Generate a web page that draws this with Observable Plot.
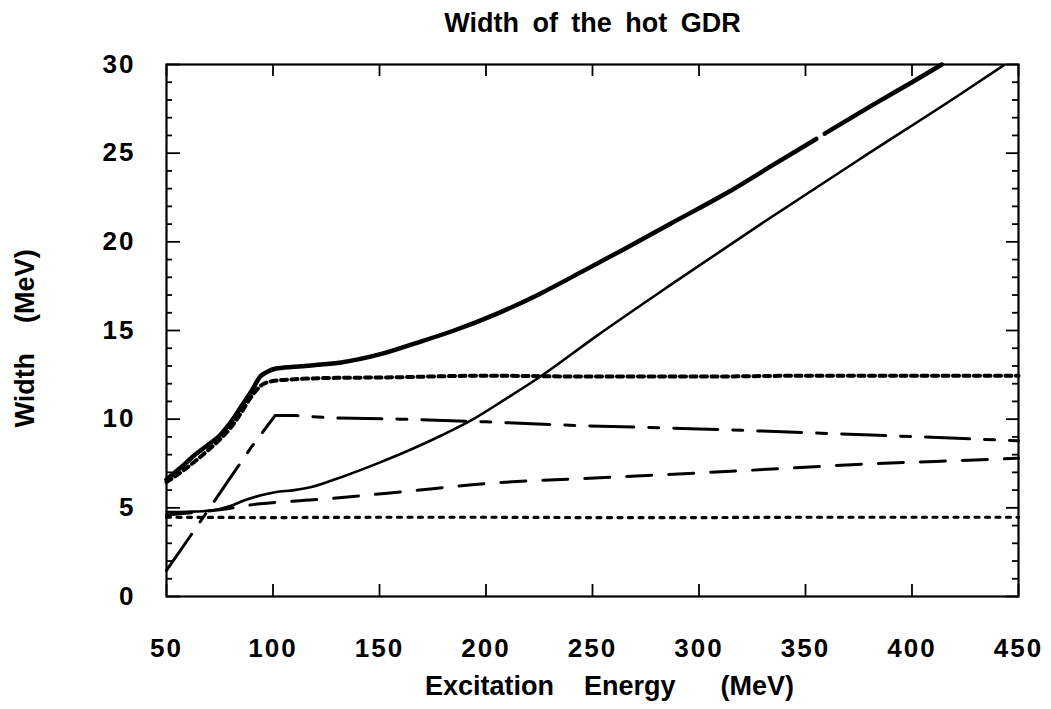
<!DOCTYPE html>
<html>
<head>
<meta charset="utf-8">
<script src="https://cdn.jsdelivr.net/npm/d3@7"></script>
<script src="https://cdn.jsdelivr.net/npm/@observablehq/plot@0.6"></script>
<style>
  html, body { margin: 0; padding: 0; background: #fff; }
  #chart svg { display: block; }
  #chart svg text { font-family: "Liberation Sans", Arial, Helvetica, sans-serif; }
  .ticklab text { letter-spacing: 2px; }
  .ttl text { word-spacing: 6px; }
</style>
</head>
<body>
<div id="chart"></div>
<script>
// ---- Data ----
const title = "Width of the hot GDR";
const xLabel = "Excitation\u00a0\u00a0\u00a0\u00a0Energy\u00a0\u00a0\u00a0\u00a0\u00a0\u00a0(MeV)";
const yLabel = "Width\u00a0\u00a0\u00a0\u00a0(MeV)";

const xTicks = [50, 100, 150, 200, 250, 300, 350, 400, 450];
const yTicks = [0, 5, 10, 15, 20, 25, 30];
const yMinorTicks = [1,2,3,4,6,7,8,9,11,12,13,14,16,17,18,19,21,22,23,24,26,27,28,29];

// thick solid: total width (null = small break in the printed line near 357 MeV)
const totalE = [50, 56, 63, 70, 75, 80, 85, 90, 94, 97, 101, 110, 120, 132, 150, 166, 185, 205, 225, 244, 265, 287, 313, 335, 355, 357, 359, 382, 400, 414];
const totalW = [6.6, 7.2, 7.95, 8.6, 9.08, 9.8, 10.7, 11.6, 12.4, 12.65, 12.84, 12.95, 13.05, 13.2, 13.65, 14.25, 15.0, 15.94, 17.05, 18.25, 19.6, 21.05, 22.75, 24.35, 25.8, null, 26.1, 27.75, 29.0, 30.0];

// thin solid
const thinE = [50, 60, 71, 80, 86, 94, 101, 110, 118, 132, 150, 165, 179, 193, 210, 224, 252, 287, 329, 376, 423, 443];
const thinW = [4.76, 4.78, 4.85, 5.1, 5.4, 5.7, 5.88, 6.0, 6.17, 6.73, 7.55, 8.3, 9.08, 9.93, 11.2, 12.28, 14.7, 17.6, 21.0, 24.7, 28.35, 29.95];

// thick dotted
const dotE = [50, 60, 70, 75, 80, 85, 90, 95, 100, 110, 130, 150, 200, 250, 300, 350, 400, 450];
const dotW = [6.45, 7.3, 8.3, 8.85, 9.5, 10.35, 11.3, 11.95, 12.15, 12.25, 12.33, 12.35, 12.45, 12.4, 12.4, 12.45, 12.45, 12.45];

// dash-dot
const dashDotE = [50, 60, 70, 80, 90, 101, 110, 130, 160, 200, 243, 300, 323, 363, 400, 446, 450];
const dashDotW = [1.47, 3.2, 4.95, 6.7, 8.45, 10.2, 10.2, 10.06, 10.0, 9.85, 9.64, 9.45, 9.36, 9.18, 9.02, 8.8, 8.78];

// dashed
const dashE = [50, 72, 94, 119, 160, 199, 260, 321, 380, 443, 450];
const dashW = [4.6, 4.85, 5.23, 5.45, 5.9, 6.36, 6.73, 7.1, 7.48, 7.76, 7.8];

// fine dotted
const fineE = [50, 100, 150, 200, 250, 300, 350, 400, 450];
const fineW = [4.47, 4.45, 4.47, 4.47, 4.45, 4.45, 4.47, 4.47, 4.47];

const zip = (xs, ys) => xs.map((x, i) => ({x, y: ys[i]}));

// ---- Layout ----
const W = 1051, H = 709;
const mL = 166, mR = 33, mT = 64, mB = 113;
const pw = W - mL - mR, ph = H - mT - mB;

const font = {fontWeight: "bold", fill: "#000"};

const chart = Plot.plot({
  width: W,
  height: H,
  marginLeft: mL,
  marginRight: mR,
  marginTop: mT,
  marginBottom: mB,
  style: {background: "#fff", color: "#000", overflow: "visible"},
  x: {domain: [50, 450]},
  y: {domain: [0, 30]},
  marks: [
    // curves
    Plot.line(zip(fineE, fineW), {x: "x", y: "y", stroke: "#000", strokeWidth: 3.2, strokeDasharray: "4,6.5", curve: "linear"}),
    Plot.line(zip(dashE, dashW), {x: "x", y: "y", stroke: "#000", strokeWidth: 3, strokeDasharray: "25,17", curve: "monotone-x"}),
    Plot.line(zip(dashDotE, dashDotW), {x: "x", y: "y", stroke: "#000", strokeWidth: 3, strokeDasharray: "44,15,10,15", curve: "linear"}),
    Plot.line(zip(dotE, dotW), {x: "x", y: "y", stroke: "#000", strokeWidth: 4, strokeDasharray: "6,4.5", curve: "monotone-x"}),
    Plot.line(zip(thinE, thinW), {x: "x", y: "y", stroke: "#000", strokeWidth: 2.6, curve: "monotone-x"}),
    Plot.line(zip(totalE, totalW), {x: "x", y: "y", stroke: "#000", strokeWidth: 4.5, curve: "monotone-x"}),
    // frame
    Plot.frame({stroke: "#000", strokeWidth: 2.2}),
    // inward ticks
    Plot.tickX(xTicks, {x: d => d, insetTop: ph - 12, stroke: "#000", strokeWidth: 1.8}),
    Plot.tickX(xTicks, {x: d => d, insetBottom: ph - 12, stroke: "#000", strokeWidth: 1.8}),
    Plot.tickY(yTicks, {y: d => d, insetRight: pw - 14, stroke: "#000", strokeWidth: 1.8}),
    Plot.tickY(yMinorTicks, {y: d => d, insetRight: pw - 6, stroke: "#000", strokeWidth: 1.8}),
    Plot.tickY(yTicks, {y: d => d, insetLeft: pw - 12, stroke: "#000", strokeWidth: 1.8}),
    Plot.tickY(yMinorTicks, {y: d => d, insetLeft: pw - 6, stroke: "#000", strokeWidth: 1.8}),
    // tick labels
    Plot.axisX({ticks: xTicks, tickSize: 0, tickPadding: 42, label: null, fontSize: 26, fontWeight: "bold", className: "ticklab"}),
    Plot.axisY({ticks: yTicks, tickSize: 0, tickPadding: 31, label: null, fontSize: 26, fontWeight: "bold", className: "ticklab"}),
    // titles
    Plot.text([title], {text: d => d, frameAnchor: "top", dy: -41, fontSize: 27, ...font, lineAnchor: "middle", className: "ttl"}),
    Plot.text([xLabel], {text: d => d, frameAnchor: "bottom", dx: 17, dy: 90, fontSize: 27, ...font, lineAnchor: "middle"}),
    Plot.text([yLabel], {text: d => d, frameAnchor: "left", dx: -141, dy: 8, rotate: -90, textAnchor: "middle", fontSize: 27, ...font, lineAnchor: "middle"})
  ]
});

document.getElementById("chart").appendChild(chart);
</script>
</body>
</html>
